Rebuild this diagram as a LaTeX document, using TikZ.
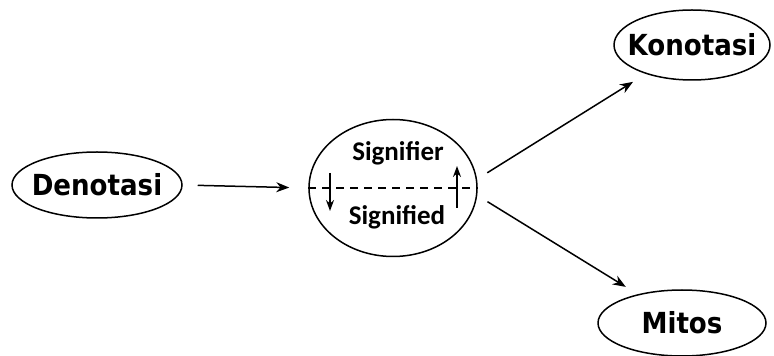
\documentclass[tikz,border=0pt]{standalone}
\usepackage{fontspec}
\setmainfont{Liberation Sans}
\newfontfamily\heavy{DejaVu Sans Condensed}
\newfontfamily\calib{Carlito}
\usetikzlibrary{shapes.geometric,arrows.meta}
\begin{document}
\begin{tikzpicture}[x=1pt,y=1pt,
  oval/.style={ellipse,draw,line width=1.5pt,inner sep=0pt},
  big/.style={font=\heavy\fontsize{29}{29}\selectfont\bfseries},
  sig/.style={font=\calib\fontsize{27}{27}\selectfont\bfseries},
  arr/.style={-{Stealth[length=13pt,width=10pt]},line width=1.5pt}]
\useasboundingbox (0,0) rectangle (774,356);
\node[oval,minimum width=170pt,minimum height=66pt] (d) at (97,171) {};
\node[big] at (d) {Denotasi};
\node[oval,minimum width=168pt,minimum height=137pt] (c) at (393,168) {};
\node[oval,minimum width=156pt,minimum height=70pt] (k) at (692,311) {};
\node[big] at (k) {Konotasi};
\node[oval,minimum width=168pt,minimum height=66pt] (m) at (682,33) {};
\node[big] at (m) {Mitos};
\node[sig] (s1) at (398,203) {Signifier};
\node[sig] (s2) at (397,139) {Signified};
\draw[dashed,dash pattern=on 8pt off 6pt,line width=1.5pt] (c.west) -- (c.east);
\coordinate (da1) at (330,183);
\coordinate (da2) at (330,145);
\coordinate (ua1) at (457,148);
\coordinate (ua2) at (457,190);
\draw[-{Stealth[length=11pt,width=8pt]},line width=1.5pt] (da1) -- (da2);
\draw[-{Stealth[length=11pt,width=8pt]},line width=1.5pt] (ua1) -- (ua2);
\draw[arr,shorten <=15pt,shorten >=19pt] (d.east) -- (c.west);
\draw[arr,shorten <=12pt,shorten >=15pt] (c.6) -- (k.212);
\draw[arr,shorten <=12pt,shorten >=14pt] (c.-5) -- (m.147);
\end{tikzpicture}
\end{document}
